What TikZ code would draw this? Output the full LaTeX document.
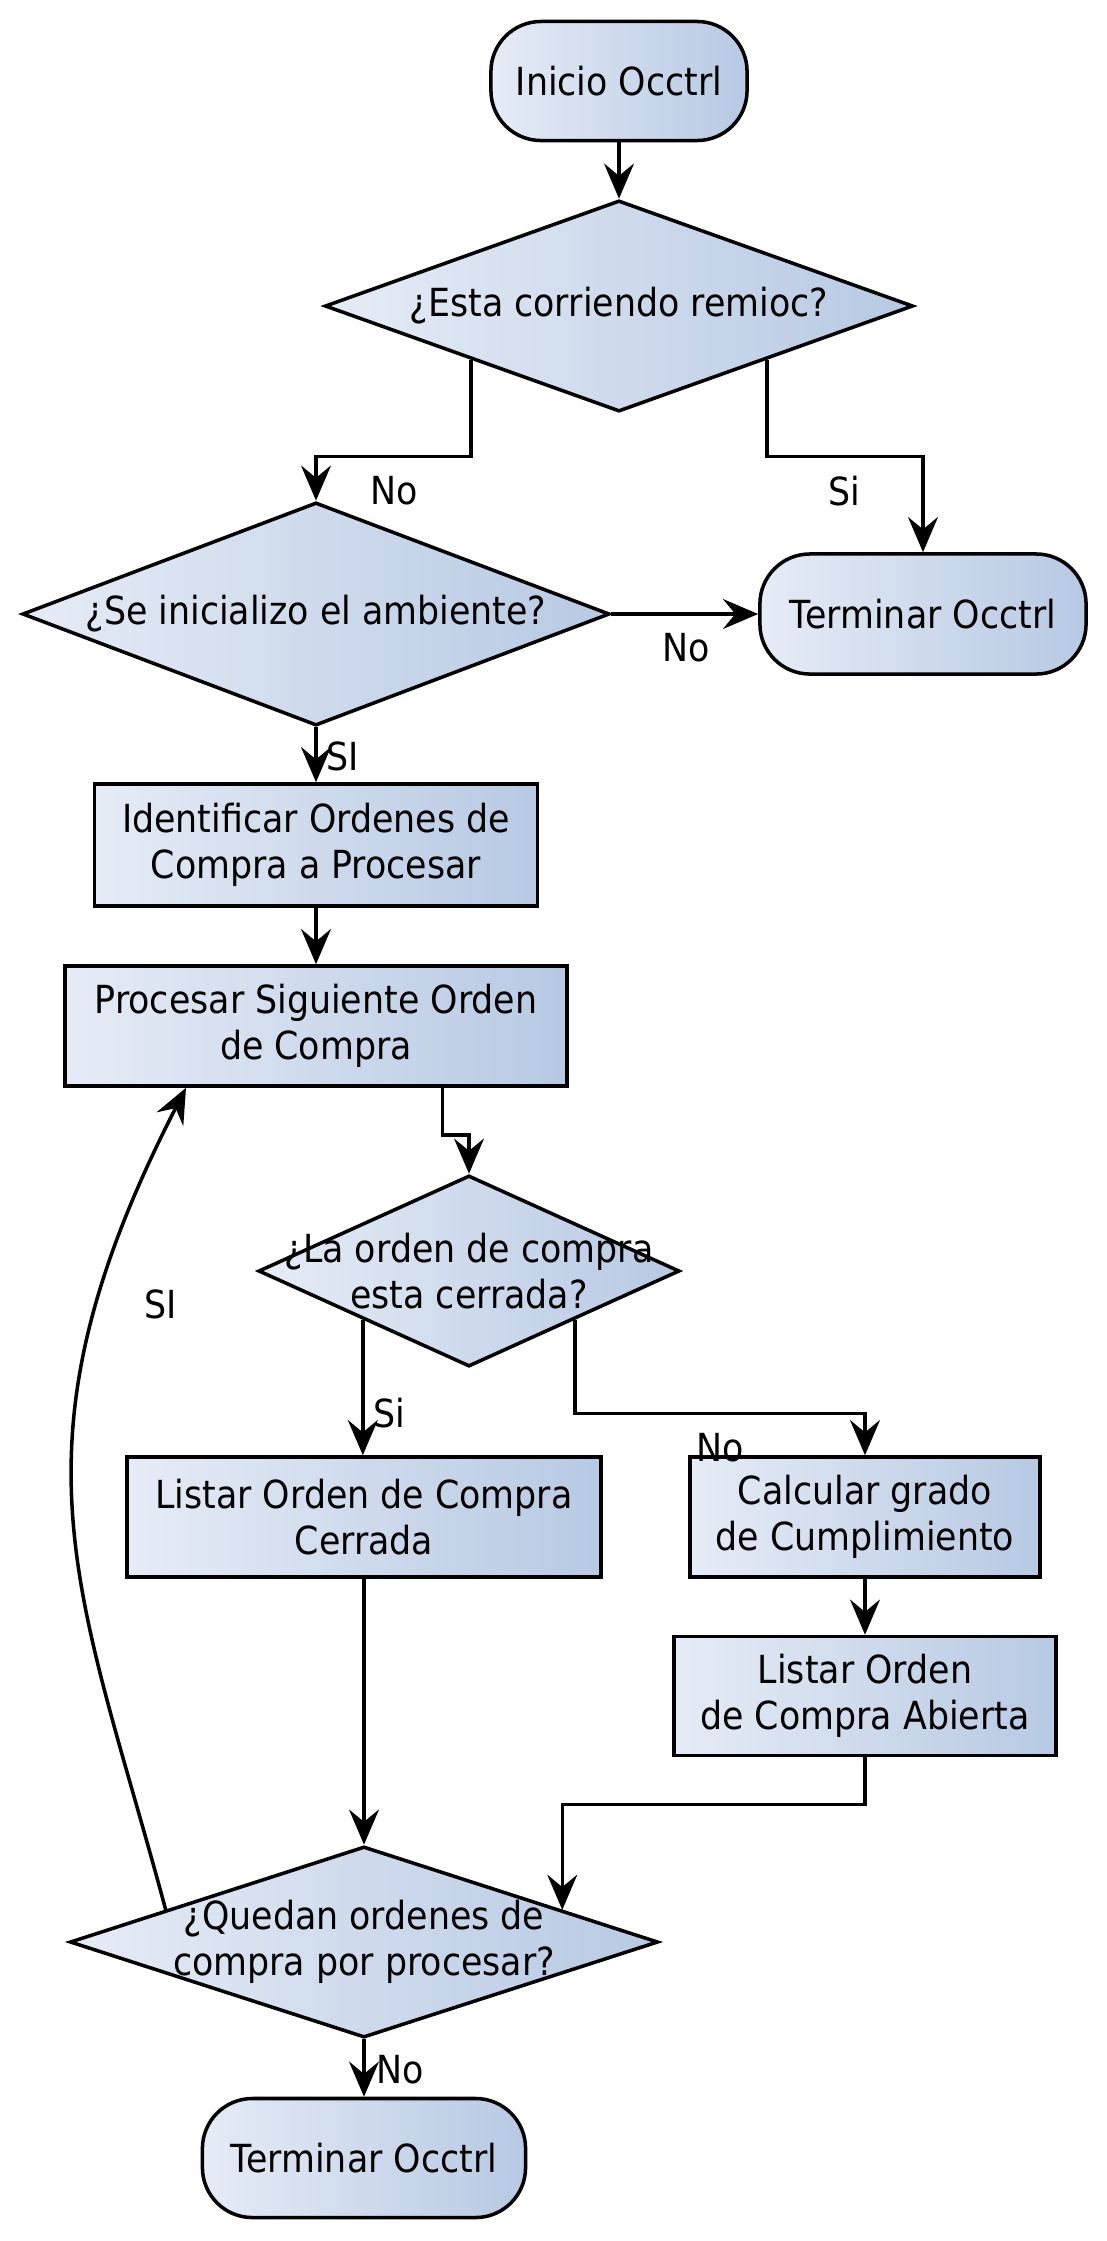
\documentclass[tikz,border=0pt]{standalone}
\usepackage{fontspec}
\setmainfont{DejaVu Sans}[FakeStretch=0.9]
\usetikzlibrary{shapes.geometric,arrows.meta,calc}
\definecolor{boxl}{RGB}{230,236,246}
\definecolor{boxr}{RGB}{183,201,227}
\tikzset{
  flujo/.style={draw, left color=boxl, right color=boxr},
  termino/.style={flujo, rounded corners=0.5cm, minimum height=1.19cm},
  proceso/.style={flujo, align=center, minimum height=1.2cm},
  decision/.style={flujo, diamond, inner sep=0pt},
}
\begin{document}
\begin{tikzpicture}[x=0.01cm, y=-0.01cm, font=\fontsize{11}{13}\selectfont, line width=1pt, >={Stealth[length=10pt,width=8.5pt,inset=3.5pt]}]
\useasboundingbox (0,0) rectangle (1107,2241);
% nodos
\node[termino, minimum width=2.56cm] (inicio) at (619,81) {Inicio Occtrl};
\node[decision, minimum width=5.88cm, minimum height=2.11cm] (corre) at (619,306) {};
\node (corretxt) at (corre) {¿Esta corriendo remioc?};
\node[decision, minimum width=5.87cm, minimum height=2.23cm] (amb) at (316,614) {};
\node (ambtxt) at (amb) {¿Se inicializo el ambiente?};
\node[termino, minimum width=3.26cm, minimum height=1.2cm] (fin1) at (923,614) {Terminar Occtrl};
\node[proceso, minimum width=4.43cm, minimum height=1.22cm] (ident) at (316,845) {Identificar Ordenes de\\Compra a Procesar};
\node[proceso, minimum width=5.02cm] (sig) at (316,1026) {Procesar Siguiente Orden\\de Compra};
\node[decision, minimum width=4.21cm, minimum height=1.91cm] (cerr) at (469,1271) {};
\node[align=center] (cerrtxt) at (cerr) {¿La orden de compra\\esta cerrada?};
\node[proceso, minimum width=4.74cm] (lcerr) at (364,1517) {Listar Orden de Compra\\Cerrada};
\node[proceso, minimum width=3.5cm] (calc) at (865,1517) {Calcular grado\\de Cumplimiento};
\node[proceso, minimum width=3.82cm, minimum height=1.19cm] (labi) at (865,1696) {Listar Orden\\de Compra Abierta};
\node[decision, minimum width=5.88cm, minimum height=1.91cm] (queda) at (364,1942) {};
\node[align=center] (quedatxt) at (queda) {¿Quedan ordenes de\\compra por procesar?};
\node[termino, minimum width=3.23cm] (fin2) at (364,2158) {Terminar Occtrl};
% etiquetas
\node (no1) at (394,491) {No};
\node (si1) at (844,491) {Si};
\node (no2) at (686,648) {No};
\node (si2) at (343,756) {SI};
\node (si3) at (389,1413) {Si};
\node (no3) at (720,1448) {No};
\node (si4) at (161,1304) {SI};
\node (no4) at (400,2070) {No};
% conectores
\draw[->] (inicio) -- (corre);
\draw[->] (corre.south west) -- ++(0,97) -| (amb.north);
\draw[->] (corre.south east) -- ++(0,97) -| (fin1.north);
\draw[->] (amb) -- (fin1);
\draw[->] (amb) -- (ident);
\draw[->] (ident) -- (sig);
\draw[->] ($(sig.south west)!0.75!(sig.south east)$) -- ++(0,47) -| (cerr.north);
\draw[->] (cerr.south west) -- (cerr.south west |- lcerr.north);
\draw[->] (cerr.south east) -- ++(0,94) -| (calc.north);
\draw[->] (calc) -- (labi);
\draw[->] (lcerr) -- (queda);
\draw[->] (labi.south) -- ++(0,47) -| ($(queda.north)!0.67!(queda.east)$);
\draw[->] ($(queda.north)!0.67!(queda.west)$) .. controls (80,1590) and (0,1450) .. ($(sig.south west)!0.243!(sig.south east)$);
\draw[->] (queda) -- (fin2);
\end{tikzpicture}
\end{document}
